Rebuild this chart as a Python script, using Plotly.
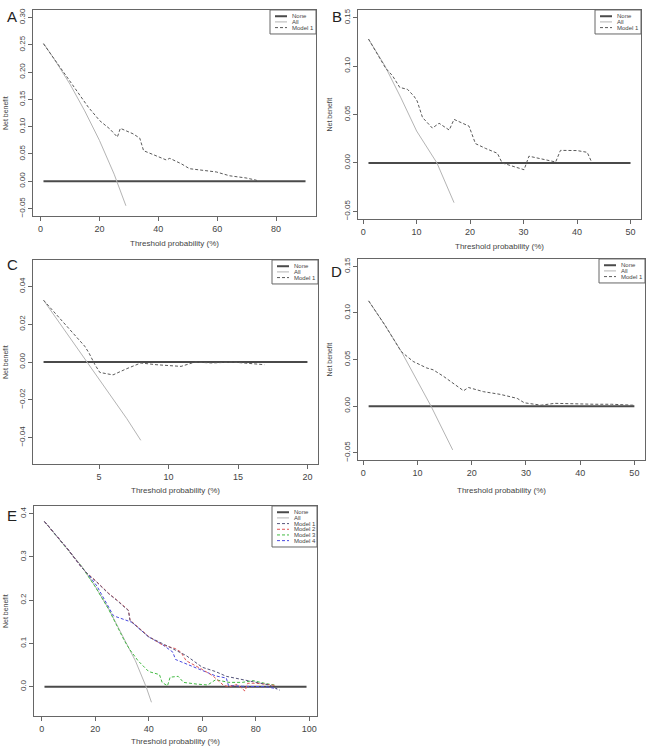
import plotly.graph_objects as go

# ---------------- data ----------------
# Panel A
a_all_x = [1, 5, 10, 15, 20, 25, 29]
a_all_y = [0.253, 0.221, 0.178, 0.129, 0.075, 0.013, -0.045]
a_m1_x = [1, 5, 9.4, 10.8, 14.5, 16.2, 20.1, 23.5, 26.1, 27.1, 31.4, 33.7, 35, 39.3, 42.7, 43.9, 47.8, 50.6, 53.4, 59.7, 64.2, 69.8, 73.2, 74]
a_m1_y = [0.252, 0.221, 0.187, 0.178, 0.147, 0.136, 0.111, 0.096, 0.081, 0.097, 0.087, 0.079, 0.056, 0.047, 0.039, 0.042, 0.032, 0.023, 0.021, 0.017, 0.010, 0.006, 0.002, 0.0]
a_none_x = [1, 90]

# Panel B
b_all_x = [1, 4, 7, 10, 13.8, 17]
b_all_y = [0.128, 0.101, 0.068, 0.033, 0.0, -0.041]
b_m1_x = [1, 4.2, 5.5, 6.85, 8.3, 9.5, 10.1, 11.1, 12.95, 14.2, 16.1, 17, 19.8, 21, 22.9, 25.1, 26, 30.1, 31, 36, 36.9, 40, 41.9, 42.8]
b_m1_y = [0.128, 0.098, 0.090, 0.078, 0.076, 0.069, 0.064, 0.047, 0.036, 0.041, 0.034, 0.045, 0.038, 0.020, 0.015, 0.010, 0.0, -0.007, 0.007, 0.001, 0.013, 0.0128, 0.011, 0.0]
b_none_x = [1, 50]

# Panel C
c_all_x = [1, 3, 5, 7, 8]
c_all_y = [0.0327, 0.0120, -0.0088, -0.0300, -0.0414]
c_m1_x = [1, 3.0, 3.96, 4.27, 4.7, 5.05, 6.0, 6.96, 8.0, 9.1, 10.9, 11.9, 13.1, 14.6, 15.6, 16.9]
c_m1_y = [0.0327, 0.0164, 0.0084, 0.0048, -0.0014, -0.0055, -0.0068, -0.0036, -0.0005, -0.0014, -0.0023, 0.0, -0.0005, 0.0, -0.0005, -0.0014]
c_none_x = [1, 20]

# Panel D
d_all_x = [1, 4, 7, 10, 12.5, 16.5]
d_all_y = [0.113, 0.087, 0.059, 0.027, 0.0, -0.047]
d_m1_x = [1, 4, 7, 9.2, 11.7, 12.9, 14.8, 16.96, 18.5, 19.4, 22.2, 25.3, 28.4, 29.7, 32.8, 35.3, 39.6, 42.7, 45.8, 48.9, 49.8]
d_m1_y = [0.113, 0.087, 0.0586, 0.048, 0.041, 0.039, 0.032, 0.023, 0.0165, 0.020, 0.0155, 0.0126, 0.0083, 0.0036, 0.001, 0.003, 0.002, 0.002, 0.002, 0.0018, 0.001]
d_none_x = [1, 50]

# Panel E
e_all_x = [1, 5, 10, 15, 20, 25, 30, 35, 39, 41]
e_all_y = [0.382, 0.352, 0.316, 0.278, 0.232, 0.180, 0.120, 0.060, 0.0, -0.036]
e_m1_x = [1, 5, 10, 15, 17, 20, 25, 28, 32.4, 33, 36, 40, 47, 54, 60, 65, 69, 75, 80, 85, 89]
e_m1_y = [0.382, 0.352, 0.316, 0.275, 0.262, 0.245, 0.215, 0.200, 0.176, 0.153, 0.136, 0.115, 0.094, 0.072, 0.045, 0.035, 0.024, 0.016, 0.011, 0.004, -0.008]
e_m2_x = [1, 5, 10, 15, 17, 20, 25, 28, 32.4, 33, 36, 40, 45, 48, 50, 52, 54, 60, 64, 68, 70, 73, 76, 77, 80, 85, 87]
e_m2_y = [0.382, 0.352, 0.316, 0.275, 0.262, 0.246, 0.216, 0.201, 0.177, 0.154, 0.137, 0.116, 0.097, 0.092, 0.088, 0.080, 0.060, 0.040, 0.025, 0.003, 0.0, 0.005, -0.010, 0.008, 0.008, 0.005, 0.003]
e_m3_x = [1, 5, 10, 15, 20, 25, 31, 33, 36, 40, 44, 45, 47, 48, 51, 53, 58, 62, 65, 70, 75, 79, 84, 87]
e_m3_y = [0.382, 0.352, 0.316, 0.277, 0.231, 0.179, 0.105, 0.085, 0.060, 0.035, 0.028, 0.010, 0.002, 0.022, 0.024, 0.010, 0.006, 0.004, 0.016, 0.010, 0.010, 0.014, 0.007, 0.004]
e_m4_x = [1, 5, 10, 15, 17, 20.6, 23, 26.8, 33.7, 40, 45, 47, 49, 50, 55, 60, 65, 69, 69.8, 75, 80, 84, 88]
e_m4_y = [0.382, 0.352, 0.316, 0.275, 0.262, 0.233, 0.205, 0.164, 0.149, 0.115, 0.098, 0.090, 0.080, 0.063, 0.050, 0.037, 0.025, 0.020, 0.003, 0.001, 0.0, 0.0, -0.005]
e_none_x = [1, 99]

panel_letters = ["A", "B", "C", "D", "E"]
legend_labels_1 = ["None", "All", "Model 1"]
legend_labels_4 = ["None", "All", "Model 1", "Model 2", "Model 3", "Model 4"]

# ---------------- style ----------------
W, H = 651, 746
FONT = "Liberation Sans, Arial, sans-serif"
C_NONE = "#4a4a4a"
C_ALL = "#b4b4b4"
C_M1 = "#5a5a5a"
C_E1 = "#55557a"
C_E2 = "#e05555"
C_E3 = "#44bb44"
C_E4 = "#4a4ae0"
DASH = "3px,2px"


def fx(px):
    return px / W


def fy(py):
    return 1 - py / H


fig = go.Figure()

# panel geometry in pixels: (left, right, top, bottom)
panels = [
    dict(box=(33, 316, 8, 215), xr=[-2.56, 93.56], yr=[-0.064, 0.314],
         xt=[0, 20, 40, 60, 80], yt=[-0.05, 0, 0.05, 0.10, 0.15, 0.20, 0.25, 0.30], yfmt=".2f",
         lbl=(12, 15), xtitle_y=242, ytitle_x=5),
    dict(box=(358, 641, 8, 218), xr=[-0.96, 51.96], yr=[-0.058, 0.158],
         xt=[0, 10, 20, 30, 40, 50], yt=[-0.05, 0, 0.05, 0.10, 0.15], yfmt=".2f",
         lbl=(337, 15), xtitle_y=245, ytitle_x=330),
    dict(box=(33, 318, 259, 464), xr=[0.24, 20.76], yr=[-0.054, 0.054],
         xt=[5, 10, 15, 20], yt=[-0.04, -0.02, 0, 0.02, 0.04], yfmt=".2f",
         lbl=(12, 264), xtitle_y=490, ytitle_x=5),
    dict(box=(358, 645, 258, 460), xr=[-0.96, 51.96], yr=[-0.058, 0.158],
         xt=[0, 10, 20, 30, 40, 50], yt=[-0.05, 0, 0.05, 0.10, 0.15], yfmt=".2f",
         lbl=(336, 271), xtitle_y=490, ytitle_x=330),
    dict(box=(34, 317, 506, 717), xr=[-2.92, 102.92], yr=[-0.068, 0.418],
         xt=[0, 20, 40, 60, 80, 100], yt=[0, 0.1, 0.2, 0.3, 0.4], yfmt=".1f",
         lbl=(12, 516), xtitle_y=742, ytitle_x=5),
]

series = [
    [(a_none_x, [0, 0], "none"), (a_all_x, a_all_y, "all"), (a_m1_x, a_m1_y, C_M1)],
    [(b_none_x, [0, 0], "none"), (b_all_x, b_all_y, "all"), (b_m1_x, b_m1_y, C_M1)],
    [(c_none_x, [0, 0], "none"), (c_all_x, c_all_y, "all"), (c_m1_x, c_m1_y, C_M1)],
    [(d_none_x, [0, 0], "none"), (d_all_x, d_all_y, "all"), (d_m1_x, d_m1_y, C_M1)],
    [(e_none_x, [0, 0], "none"), (e_all_x, e_all_y, "all"),
     (e_m3_x, e_m3_y, C_E3), (e_m4_x, e_m4_y, C_E4), (e_m2_x, e_m2_y, C_E2), (e_m1_x, e_m1_y, C_E1)],
]

names_map = [legend_labels_1] * 4 + [legend_labels_4]

layout_axes = {}
annotations = []
shapes = []

for i, (p, ser) in enumerate(zip(panels, series)):
    n = i + 1
    xa = "x" if n == 1 else f"x{n}"
    ya = "y" if n == 1 else f"y{n}"
    xkey = "xaxis" if n == 1 else f"xaxis{n}"
    ykey = "yaxis" if n == 1 else f"yaxis{n}"
    l, r, t, b = p["box"]
    for xs, ys, kind in ser:
        if kind == "none":
            line = dict(color=C_NONE, width=2)
        elif kind == "all":
            line = dict(color=C_ALL, width=1)
        else:
            line = dict(color=kind, width=1, dash=DASH)
        fig.add_trace(go.Scatter(x=xs, y=ys, mode="lines", line=line, xaxis=xa, yaxis=ya,
                                 showlegend=False, hoverinfo="skip"))
    layout_axes[xkey] = dict(domain=[fx(l), fx(r)], range=p["xr"], anchor=ya,
                             tickvals=p["xt"], showgrid=False, zeroline=False,
                             showline=True, mirror=True, linecolor="#666", linewidth=1,
                             ticks="outside", ticklen=4, tickcolor="#666",
                             tickfont=dict(size=9, color="#444", family=FONT))
    layout_axes[ykey] = dict(domain=[fy(b), fy(t)], range=p["yr"], anchor=xa,
                             tickvals=p["yt"], tickformat=p["yfmt"], tickangle=-90,
                             showgrid=False, zeroline=False,
                             showline=True, mirror=True, linecolor="#666", linewidth=1,
                             ticks="outside", ticklen=4, tickcolor="#666",
                             tickfont=dict(size=8, color="#444", family=FONT))
    # axis titles
    annotations.append(dict(text="Threshold probability (%)", xref="paper", yref="paper",
                            x=fx((l + r) / 2), y=fy(p["xtitle_y"]), showarrow=False,
                            xanchor="center", yanchor="middle",
                            font=dict(size=8, color="#444", family=FONT)))
    annotations.append(dict(text="Net benefit", xref="paper", yref="paper", textangle=-90,
                            x=fx(p["ytitle_x"]), y=fy((t + b) / 2), showarrow=False,
                            xanchor="center", yanchor="middle",
                            font=dict(size=7, color="#444", family=FONT)))
    # panel letter
    annotations.append(dict(text=panel_letters[i], xref="paper", yref="paper",
                            x=fx(p["lbl"][0]), y=fy(p["lbl"][1]), showarrow=False,
                            xanchor="center", yanchor="middle",
                            font=dict(size=15, color="#222", family=FONT)))
    # legend box
    names = names_map[i]
    nrow = len(names)
    lw = 46 if nrow == 3 else 45
    rowh = 5.7
    lt = t
    lb = t + 6 + rowh * nrow + 1
    ll = r - lw
    shapes.append(dict(type="rect", xref="paper", yref="paper",
                       x0=fx(ll), x1=fx(r), y0=fy(lb), y1=fy(lt),
                       line=dict(color="#666", width=1), fillcolor="white"))
    if nrow == 3:
        leg_cols = [dict(color=C_NONE, width=2), dict(color=C_ALL, width=1),
                    dict(color=C_M1, width=1, dash=DASH)]
    else:
        leg_cols = [dict(color=C_NONE, width=2), dict(color=C_ALL, width=1),
                    dict(color=C_E1, width=1, dash=DASH), dict(color=C_E2, width=1, dash=DASH),
                    dict(color=C_E3, width=1, dash=DASH), dict(color=C_E4, width=1, dash=DASH)]
    for k, nm in enumerate(names):
        yy = lt + 6.3 + rowh * k
        shapes.append(dict(type="line", xref="paper", yref="paper",
                           x0=fx(ll + 5), x1=fx(ll + 17), y0=fy(yy), y1=fy(yy), line=leg_cols[k]))
        annotations.append(dict(text=nm, xref="paper", yref="paper", x=fx(ll + 20), y=fy(yy),
                                xanchor="left", yanchor="middle", showarrow=False,
                                font=dict(size=6, color="#444", family=FONT)))

fig.update_layout(width=W, height=H, margin=dict(l=0, r=0, t=0, b=0),
                  paper_bgcolor="white", plot_bgcolor="white", showlegend=False,
                  annotations=annotations, shapes=shapes, **layout_axes)

fig.write_html("out.html")
